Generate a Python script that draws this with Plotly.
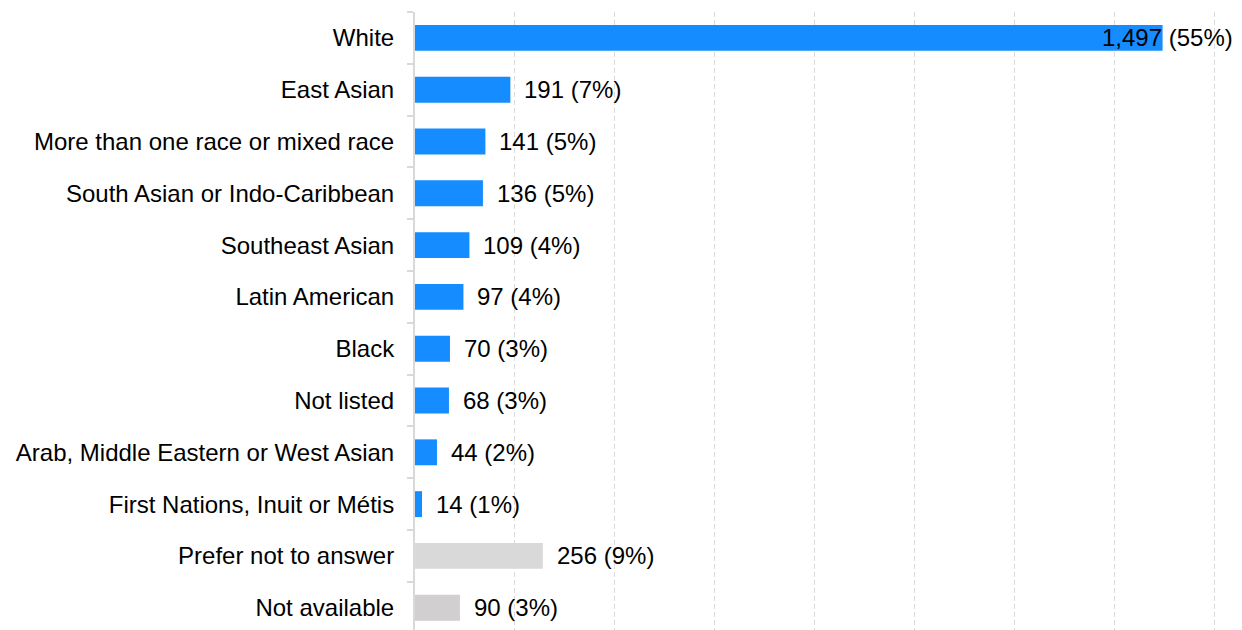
import plotly.graph_objects as go

categories = ["White", "East Asian", "More than one race or mixed race",
              "South Asian or Indo-Caribbean", "Southeast Asian", "Latin American",
              "Black", "Not listed", "Arab, Middle Eastern or West Asian",
              "First Nations, Inuit or Métis", "Prefer not to answer", "Not available"]
counts = [1497, 191, 141, 136, 109, 97, 70, 68, 44, 14, 256, 90]
percents = [55, 7, 5, 5, 4, 4, 3, 3, 2, 1, 9, 3]
colors = ["#158cff"] * 10 + ["#d9d9d9", "#d1cfcf"]

FONT = "Arial, Liberation Sans, sans-serif"
FS = 24

fig = go.Figure()
fig.add_trace(go.Bar(
    y=categories, x=counts, orientation="h",
    marker=dict(color=colors, line=dict(width=0)),
    hoverinfo="skip",
))

labels = [f"{c:,} ({p}%)" for c, p in zip(counts, percents)]
xmax = 1650
for cat, c, lab in zip(categories, counts, labels):
    if c * 0.5 + 18 + len(lab) * 12.5 > xmax * 0.5:
        fig.add_annotation(x=1, xref="paper", y=cat, yref="y", text=lab,
                           showarrow=False, xanchor="right", xshift=-4,
                           font=dict(size=FS, color="#000", family=FONT))
    else:
        fig.add_annotation(x=c, y=cat, text=lab, showarrow=False,
                           xanchor="left", xshift=12,
                           font=dict(size=FS, color="#000", family=FONT))

fig.update_layout(
    width=1234, height=622,
    margin=dict(l=407, r=3, t=4, b=0),
    paper_bgcolor="white", plot_bgcolor="white",
    bargap=0.5, showlegend=False,
    font=dict(family=FONT, size=FS, color="#000"),
)
fig.update_xaxes(range=[0, xmax], dtick=200, showticklabels=False,
                 showgrid=True, gridcolor="#d9d9d9", griddash="5px,3px", gridwidth=1,
                 zeroline=False, showline=False)
fig.update_yaxes(range=[11.43, -0.5], showline=True, linecolor="#d9d9d9", linewidth=2,
                 ticks="outside", tickson="boundaries", ticklen=6, tickcolor="#d9d9d9",
                 tickwidth=2, showgrid=False, ticklabelstandoff=14,
                 tickfont=dict(size=FS, color="#000", family=FONT))

fig.write_html("out.html")
